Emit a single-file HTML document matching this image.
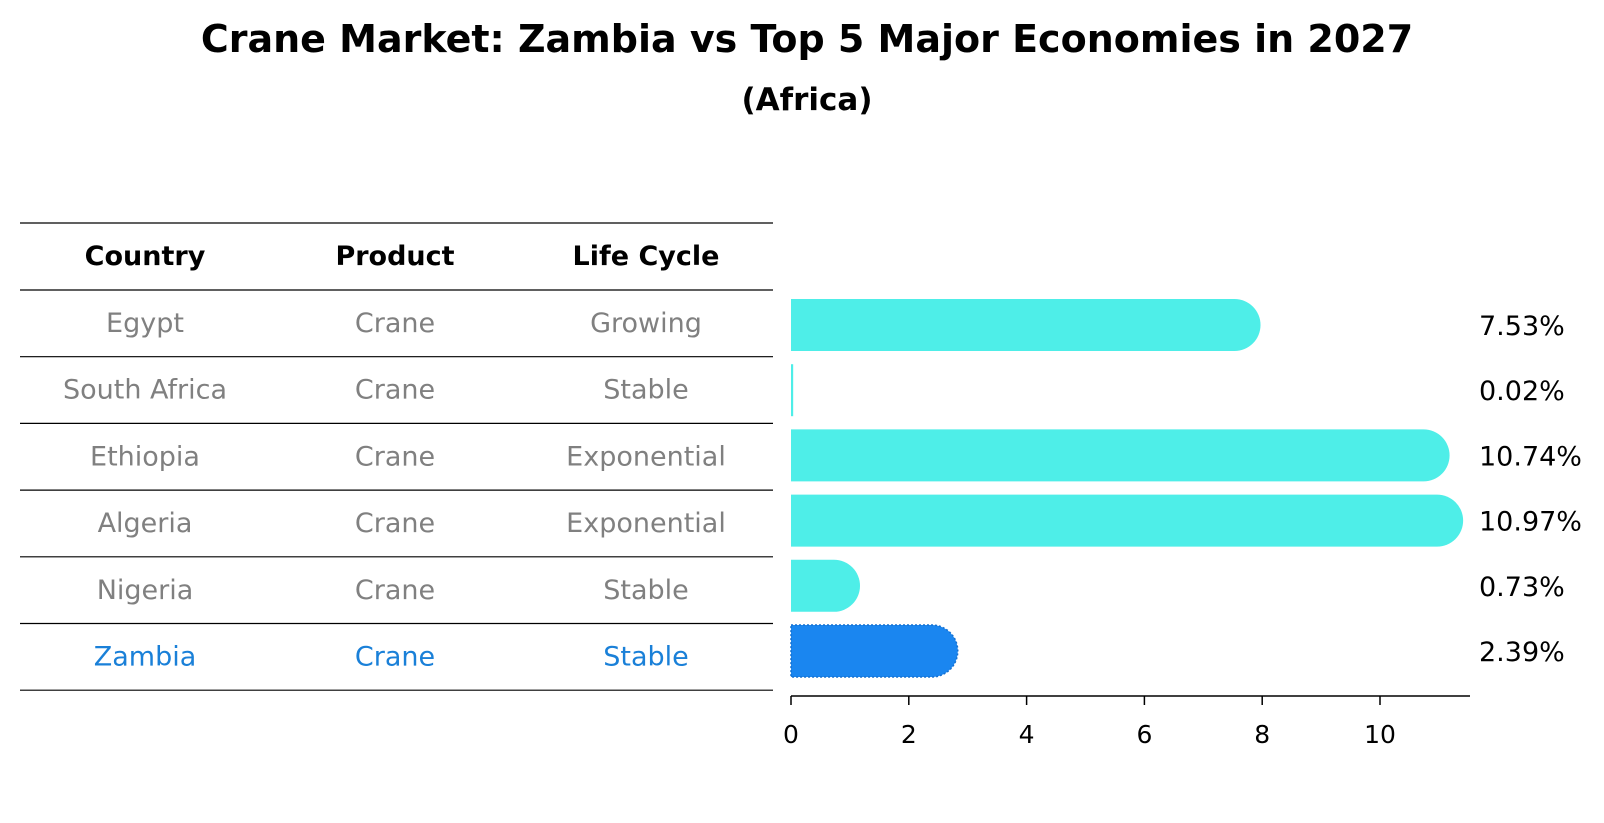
<!DOCTYPE html>
<html><head><meta charset="utf-8"><style>
body{margin:0;background:#fff;}
svg{display:block;font-family:"DejaVu Sans","Liberation Sans",sans-serif;}
</style></head><body>
<svg id="chart" width="1604" height="823" viewBox="0 0 1604 823" xmlns="http://www.w3.org/2000/svg">
<text x="807" y="52" text-anchor="middle" font-size="38" font-weight="bold">Crane Market: Zambia vs Top 5 Major Economies in 2027</text>
<text x="807" y="110" text-anchor="middle" font-size="31" font-weight="bold">(Africa)</text>
<g id="table"></g>
<g id="bars"></g>
</svg>
<script>
const countries=["Egypt","South Africa","Ethiopia","Algeria","Nigeria","Zambia"];
const products=["Crane","Crane","Crane","Crane","Crane","Crane"];
const lifecycles=["Growing","Stable","Exponential","Exponential","Stable","Stable"];
const values=[7.53,0.02,10.74,10.97,0.73,2.39];
const ticks=[0,2,4,6,8,10];
const NS="http://www.w3.org/2000/svg";
function mk(tag,attrs,parent){const e=document.createElementNS(NS,tag);for(const k in attrs)e.setAttribute(k,attrs[k]);parent.appendChild(e);return e;}
const table=document.getElementById('table');
const bars=document.getElementById('bars');
const rowY=i=>325+i*65.2;
const xS=v=>791+v*58.9;
const barH=52;
const colX=[145,395,646];
const hdr=["Country","Product","Life Cycle"];
const lineYs=[223,290];
for(let i=0;i<countries.length;i++)lineYs.push(290+(i+1)*66.7);
lineYs.forEach(y=>{
  const l=mk('line',{x1:20,x2:773,y1:y,y2:y,stroke:'#000','stroke-width':1.2},table);
  
  
});
hdr.forEach((h,j)=>{
  const t=mk('text',{x:colX[j],y:265,'text-anchor':'middle','font-size':27,'font-weight':'bold'},table);
  t.textContent=h;
  
  
});
countries.forEach((c,i)=>{
  const y=290+i*66.7+33+9;
  const col=c==="Zambia"?"#1a80d8":"#808080";
  [c,products[i],lifecycles[i]].forEach((s,j)=>{
    const t=mk('text',{x:colX[j],y:y,'text-anchor':'middle','font-size':27,fill:col},table);
    t.textContent=s;
    
    
  });
});
values.forEach((v,i)=>{
  const cy=rowY(i),x0=xS(0),x1=xS(v),r=barH/2;
  const zam=countries[i]==="Zambia";
  const d=v<0.05?`M${x0} ${cy-r}H${x1+1}V${cy+r}H${x0}Z`:`M${x0} ${cy-r}H${x1}A${r} ${r} 0 0 1 ${x1} ${cy+r}H${x0}Z`;
  const p=mk('path',{d:d,fill:zam?'#1a86f0':'#4eeee8'},bars);
  if(zam){p.setAttribute('stroke','#1570d0');p.setAttribute('stroke-dasharray','2 2');p.setAttribute('stroke-width','1.5');}
  
  
  const t=mk('text',{x:1479,y:cy+10,'font-size':27},bars);
  t.textContent=v.toFixed(2)+'%';
  
  
});
const ax=mk('line',{x1:xS(0),x2:1470,y1:696,y2:696,stroke:'#000','stroke-width':1.5},bars);


ticks.forEach(t=>{
  const l=mk('line',{x1:xS(t),x2:xS(t),y1:696,y2:705,stroke:'#000','stroke-width':1.5},bars);
  
  
  const tx=mk('text',{x:xS(t),y:743,'text-anchor':'middle','font-size':25},bars);
  tx.textContent=t;
  
  
});
</script>
</body></html>
